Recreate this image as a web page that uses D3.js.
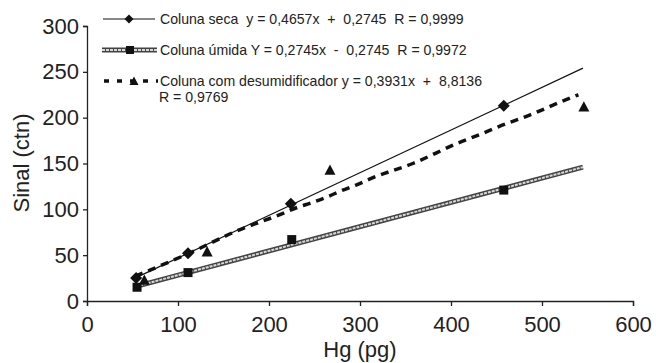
<!DOCTYPE html>
<html>
<head>
<meta charset="utf-8">
<script src="https://cdn.jsdelivr.net/npm/d3@7"></script>
<style>
  body { margin: 0; background: #fff; }
  text { font-family: "Liberation Sans", Arial, sans-serif; fill: #222; white-space: pre; }
  .axis path, .axis line { stroke: #222; stroke-width: 1.3; }
</style>
</head>
<body>
<div id="chart"></div>
<script>
// Tick values
var xTicks = [0, 100, 200, 300, 400, 500, 600];
var yTicks = [0, 50, 100, 150, 200, 250, 300];

// Coluna seca (diamonds)
var secaX = [54, 111, 224, 458];
var secaY = [25, 52, 106, 213];
var secaFitX = [55, 545];
var secaFitY = [26, 254];

// Coluna umida (squares)
var umidaX = [55, 111, 225, 458];
var umidaY = [15, 31, 67, 121];
var umidaFitX = [54, 545];
var umidaFitY = [16, 146];

// Coluna com desumidificador (triangles)
var desumX = [63, 132, 267, 546];
var desumY = [23, 54, 143, 212];
var desumCurveX = [53, 112, 166, 214, 231, 248, 265, 280, 297, 313, 358, 407, 440, 452, 487, 520, 540];
var desumCurveY = [27, 52, 77, 95, 102, 107.5, 114, 120.5, 127, 134, 150, 172, 185, 190, 203, 217, 225];

// Legend texts
var legendLabels = [
  "Coluna seca  y = 0,4657x  +  0,2745  R = 0,9999",
  "Coluna úmida Y = 0,2745x  -  0,2745  R = 0,9972",
  "Coluna com desumidificador y = 0,3931x  +  8,8136"
];
var legendExtra = "R = 0,9769";

var W = 656, H = 363;
var x = d3.scaleLinear().domain([0, 600]).range([87, 633]);
var y = d3.scaleLinear().domain([0, 300]).range([301, 26]);

var svg = d3.select("#chart").append("svg")
  .attr("width", W).attr("height", H);

// axes
var xAxis = svg.append("g").attr("class", "axis")
  .attr("transform", "translate(0,301)")
  .call(d3.axisBottom(x).tickValues(xTicks).tickSize(5).tickSizeOuter(5).tickPadding(10));
xAxis.selectAll("text").style("font-size", "22px").attr("fill", "#222");

var yAxis = svg.append("g").attr("class", "axis")
  .attr("transform", "translate(87,0)")
  .call(d3.axisLeft(y).tickValues(yTicks).tickSize(4).tickSizeOuter(4).tickPadding(4));
yAxis.selectAll("text").style("font-size", "22px").attr("fill", "#222");

// axis titles
svg.append("text")
  .attr("x", 360).attr("y", 357)
  .attr("text-anchor", "middle")
  .style("font-size", "22px")
  .text("Hg (pg)");

svg.append("text")
  .attr("transform", "translate(29,163) rotate(-90)")
  .attr("text-anchor", "middle")
  .style("font-size", "22px")
  .text("Sinal (ctn)");

var line = d3.line().x(function (d) { return x(d[0]); }).y(function (d) { return y(d[1]); });
var curve = d3.line().curve(d3.curveMonotoneX)
  .x(function (d) { return x(d[0]); }).y(function (d) { return y(d[1]); });

function zip(a, b) { return a.map(function (v, i) { return [v, b[i]]; }); }

// umida fit (double line)
svg.append("path").attr("d", line(zip(umidaFitX, umidaFitY)))
  .attr("fill", "none").attr("stroke", "#444").attr("stroke-width", 5);
svg.append("path").attr("d", line(zip(umidaFitX, umidaFitY)))
  .attr("fill", "none").attr("stroke", "#d8d8d8").attr("stroke-width", 2)
  .attr("stroke-dasharray", "3,1");

// seca fit
svg.append("path").attr("d", line(zip(secaFitX, secaFitY)))
  .attr("fill", "none").attr("stroke", "#111").attr("stroke-width", 1.2);

// desumidificador dashed curve
svg.append("path").attr("d", curve(zip(desumCurveX, desumCurveY)))
  .attr("fill", "none").attr("stroke", "#111").attr("stroke-width", 3.5)
  .attr("stroke-dasharray", "8,6");

// markers
function diamond(r) { return "M0," + (-r) + "L" + r + ",0L0," + r + "L" + (-r) + ",0Z"; }
function square(r) { return "M" + (-r) + "," + (-r) + "h" + (2 * r) + "v" + (2 * r) + "h" + (-2 * r) + "Z"; }
function triangle(r) { return "M0," + (-r) + "L" + r + "," + (r * 0.9) + "L" + (-r) + "," + (r * 0.9) + "Z"; }

svg.selectAll(".seca").data(zip(secaX, secaY)).enter().append("path")
  .attr("d", diamond(6))
  .attr("transform", function (d) { return "translate(" + x(d[0]) + "," + y(d[1]) + ")"; })
  .attr("fill", "#111");

svg.selectAll(".umida").data(zip(umidaX, umidaY)).enter().append("path")
  .attr("d", square(4.5))
  .attr("transform", function (d) { return "translate(" + x(d[0]) + "," + y(d[1]) + ")"; })
  .attr("fill", "#111");

svg.selectAll(".desum").data(zip(desumX, desumY)).enter().append("path")
  .attr("d", triangle(5.5))
  .attr("transform", function (d) { return "translate(" + x(d[0]) + "," + y(d[1]) + ")"; })
  .attr("fill", "#111");

// legend
var legY = [19, 50, 81];
var lg = svg.append("g");

lg.append("line").attr("x1", 103).attr("x2", 155).attr("y1", legY[0]).attr("y2", legY[0])
  .attr("stroke", "#111").attr("stroke-width", 1.2);
lg.append("path").attr("d", diamond(4.5)).attr("transform", "translate(129," + legY[0] + ")").attr("fill", "#111");

lg.append("line").attr("x1", 102).attr("x2", 157).attr("y1", legY[1]).attr("y2", legY[1])
  .attr("stroke", "#444").attr("stroke-width", 5);
lg.append("line").attr("x1", 102).attr("x2", 157).attr("y1", legY[1]).attr("y2", legY[1])
  .attr("stroke", "#d8d8d8").attr("stroke-width", 2).attr("stroke-dasharray", "3,1");
lg.append("path").attr("d", square(4)).attr("transform", "translate(130," + legY[1] + ")").attr("fill", "#111");

lg.append("line").attr("x1", 104).attr("x2", 158).attr("y1", legY[2]).attr("y2", legY[2])
  .attr("stroke", "#111").attr("stroke-width", 3.5).attr("stroke-dasharray", "5,8");
lg.append("path").attr("d", triangle(4.5)).attr("transform", "translate(134," + legY[2] + ")").attr("fill", "#111");

lg.selectAll(".leglabel").data(legendLabels).enter().append("text")
  .attr("x", 160)
  .attr("y", function (d, i) { return legY[i] + 5; })
  .style("font-size", "14.1px")
  .text(function (d) { return d; });

lg.append("text").attr("x", 159).attr("y", legY[2] + 21)
  .style("font-size", "14.1px")
  .text(legendExtra);
</script>
</body>
</html>
